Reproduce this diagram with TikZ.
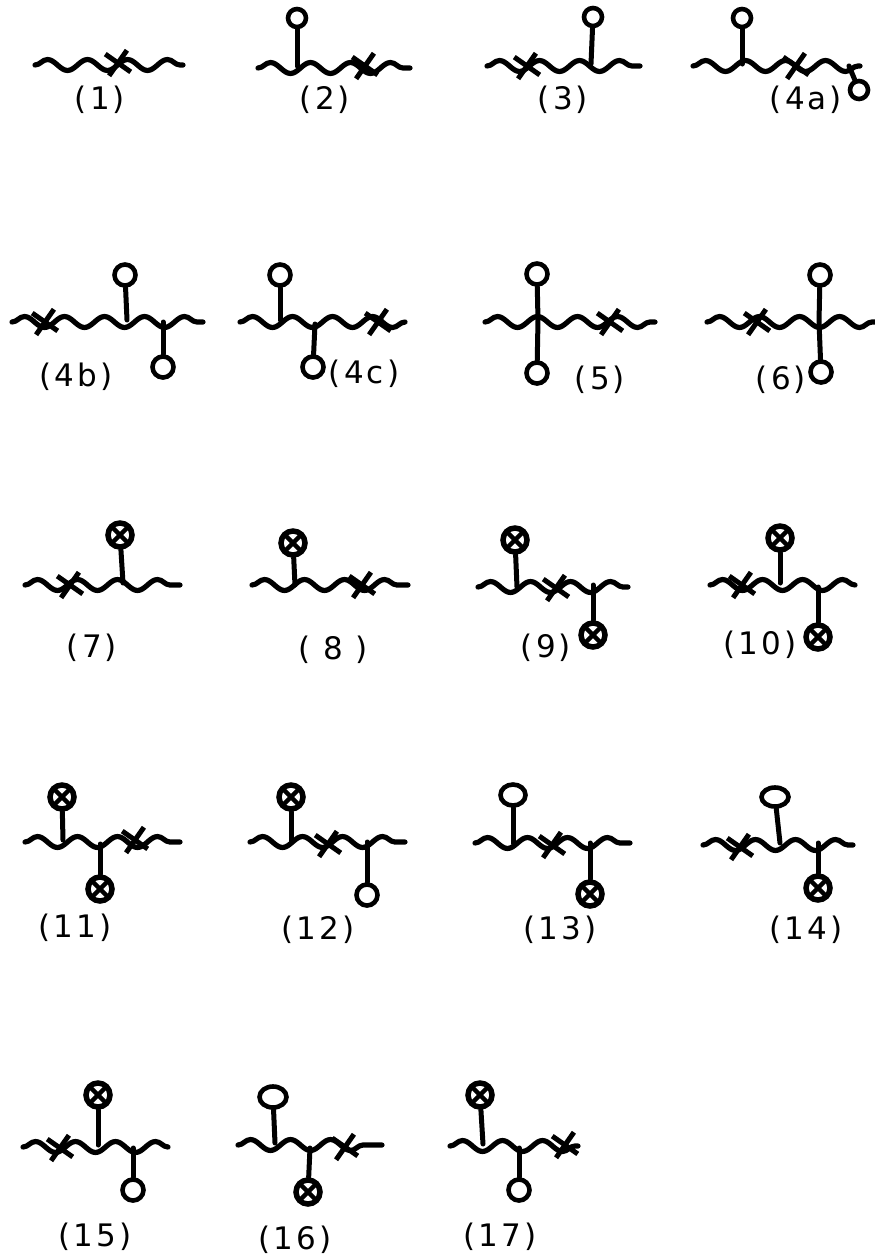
\documentclass[tikz,border=0pt]{standalone}
\usepackage{fontspec}
\setmainfont{Liberation Sans}
\newfontfamily\labfont[LetterSpace=10]{DejaVu Sans}
\usetikzlibrary{decorations.pathmorphing,shapes.misc,shapes.geometric}
\tikzset{
  wavy/.style={decorate,decoration={snake,segment length=40pt,amplitude=5.5pt},line width=5.2pt,line cap=round,line join=round},
  stem/.style={line width=5pt,line cap=round},
  openc/.style={circle,draw,line width=4.6pt,minimum size=21pt,inner sep=0pt},
  smallc/.style={openc,minimum size=18pt},
  xcirc/.style={circle,draw,line width=5.5pt,minimum size=24pt,inner sep=0pt,
    path picture={\draw[line width=4.5pt] (path picture bounding box.south west) -- (path picture bounding box.north east) (path picture bounding box.north west) -- (path picture bounding box.south east);}},
  xmark/.style={cross out,draw,line width=5pt,minimum size=17pt,inner sep=0pt,rotate=10},
  lab/.style={font=\labfont\fontsize{31}{31}\selectfont,inner sep=0pt}
}
\begin{document}
\begin{tikzpicture}[x=1pt,y=-1pt]
\path[use as bounding box] (0,0) rectangle (875,1259);
% ---------- (1)
\coordinate (L1) at (35,65); \coordinate (R1) at (183,65);
\draw[wavy] (L1) -- (R1);
\node[xmark] (X1) at (118,63) {};
\node[lab] (T1) at (100,100) {(1)};
% ---------- (2)
\coordinate (L2) at (258,68); \coordinate (R2) at (410,68);
\draw[wavy] (L2) -- (R2);
\coordinate (V2) at (297,66); \node[smallc] (C2) at (297,18) {};
\draw[stem] (V2) -- (C2);
\node[xmark] (X2) at (365,66) {};
\node[lab] (T2) at (325,100) {(2)};
% ---------- (3)
\coordinate (L3) at (487,66); \coordinate (R3) at (640,66);
\draw[wavy] (L3) -- (R3);
\node[xmark] (X3) at (527,66) {};
\coordinate (V3) at (591,64); \node[smallc] (C3) at (593,17) {};
\draw[stem] (V3) -- (C3);
\node[lab] (T3) at (563,100) {(3)};
% ---------- (4a)
\coordinate (L4a) at (693,66); \coordinate (R4a) at (860,66);
\draw[wavy] (L4a) -- (R4a);
\coordinate (V4a) at (742,64); \node[smallc] (C4a) at (742,18) {};
\draw[stem] (V4a) -- (C4a);
\node[xmark] (X4a) at (796,66) {};
\coordinate (W4a) at (849,66); \node[smallc] (D4a) at (859,90) {};
\draw[stem] (W4a) -- (D4a);
\node[lab] (T4a) at (806,100) {(4a)};
% ---------- (4b)
\coordinate (L4b) at (12,322); \coordinate (R4b) at (203,322);
\draw[wavy] (L4b) -- (R4b);
\node[xmark] (X4b) at (45,322) {};
\coordinate (V4b) at (127,320); \node[openc] (C4b) at (125,275) {};
\draw[stem] (V4b) -- (C4b);
\coordinate (W4b) at (163,322); \node[openc] (D4b) at (163,367) {};
\draw[stem] (W4b) -- (D4b);
\node[lab] (T4b) at (76,377) {(4b)};
% ---------- (4c)
\coordinate (L4c) at (240,322); \coordinate (R4c) at (405,322);
\draw[wavy] (L4c) -- (R4c);
\coordinate (V4c) at (280,320); \node[openc] (C4c) at (280,275) {};
\draw[stem] (V4c) -- (C4c);
\coordinate (W4c) at (315,324); \node[openc] (D4c) at (313,367) {};
\draw[stem] (W4c) -- (D4c);
\node[xmark] (X4c) at (378,322) {};
\node[lab] (T4c) at (364,374) {(4c)};
% ---------- (5)
\coordinate (L5) at (485,322); \coordinate (R5) at (655,322);
\draw[wavy] (L5) -- (R5);
\coordinate (V5) at (538,320); \node[openc] (C5) at (537,274) {};
\node[openc] (D5) at (537,373) {};
\draw[stem] (C5) -- (V5) -- (D5);
\node[xmark] (X5) at (610,322) {};
\node[lab] (T5) at (600,380) {(5)};
% ---------- (6)
\coordinate (L6) at (707,322); \coordinate (R6) at (875,322);
\draw[wavy] (L6) -- (R6);
\node[xmark] (X6) at (757,322) {};
\coordinate (V6) at (819,322); \node[openc] (C6) at (820,275) {};
\node[openc] (D6) at (821,372) {};
\draw[stem] (C6) -- (V6) -- (D6);
\node[lab] (T6) at (781,380) {(6)};
% ---------- (7)
\coordinate (L7) at (25,585); \coordinate (R7) at (180,585);
\draw[wavy] (L7) -- (R7);
\node[xmark] (X7) at (70,585) {};
\coordinate (V7) at (123,583); \node[xcirc] (C7) at (120,535) {};
\draw[stem] (V7) -- (C7);
\node[lab] (T7) at (92,648) {(7)};
% ---------- (8)
\coordinate (L8) at (252,585); \coordinate (R8) at (408,585);
\draw[wavy] (L8) -- (R8);
\coordinate (V8) at (295,585); \node[xcirc] (C8) at (293,543) {};
\draw[stem] (V8) -- (C8);
\node[xmark] (X8) at (362,585) {};
\node[lab] (T8) at (333,650) {( 8 )};
% ---------- (9)
\coordinate (L9) at (478,587); \coordinate (R9) at (628,587);
\draw[wavy] (L9) -- (R9);
\coordinate (V9) at (517,587); \node[xcirc] (C9) at (515,540) {};
\draw[stem] (V9) -- (C9);
\node[xmark] (X9) at (556,588) {};
\coordinate (W9) at (593,585); \node[xcirc] (D9) at (593,635) {};
\draw[stem] (W9) -- (D9);
\node[lab] (T9) at (546,648) {(9)};
% ---------- (10)
\coordinate (L10) at (710,585); \coordinate (R10) at (855,585);
\draw[wavy] (L10) -- (R10);
\node[xmark] (X10) at (742,585) {};
\coordinate (V10) at (780,583); \node[xcirc] (C10) at (780,538) {};
\draw[stem] (V10) -- (C10);
\coordinate (W10) at (818,587); \node[xcirc] (D10) at (818,637) {};
\draw[stem] (W10) -- (D10);
\node[lab] (T10) at (760,645) {(10)};
% ---------- (11)
\coordinate (L11) at (25,842); \coordinate (R11) at (180,842);
\draw[wavy] (L11) -- (R11);
\coordinate (V11) at (63,840); \node[xcirc] (C11) at (62,797) {};
\draw[stem] (V11) -- (C11);
\coordinate (W11) at (100,844); \node[xcirc] (D11) at (100,889) {};
\draw[stem] (W11) -- (D11);
\node[xmark] (X11) at (135,840) {};
\node[lab] (T11) at (75,928) {(11)};
% ---------- (12)
\coordinate (L12) at (250,842); \coordinate (R12) at (405,842);
\draw[wavy] (L12) -- (R12);
\coordinate (V12) at (291,842); \node[xcirc] (C12) at (291,797) {};
\draw[stem] (V12) -- (C12);
\node[xmark] (X12) at (328,844) {};
\coordinate (W12) at (367,842); \node[openc] (D12) at (367,895) {};
\draw[stem] (W12) -- (D12);
\node[lab] (T12) at (318,930) {(12)};
% ---------- (13)
\coordinate (L13) at (475,843); \coordinate (R13) at (630,843);
\draw[wavy] (L13) -- (R13);
\coordinate (V13) at (513,843); \node[openc,ellipse,minimum width=25pt,minimum height=21pt] (C13) at (513,795) {};
\draw[stem] (V13) -- (C13);
\node[xmark] (X13) at (552,845) {};
\coordinate (W13) at (590,843); \node[xcirc] (D13) at (590,894) {};
\draw[stem] (W13) -- (D13);
\node[lab] (T13) at (560,930) {(13)};
% ---------- (14)
\coordinate (L14) at (703,845); \coordinate (R14) at (853,845);
\draw[wavy] (L14) -- (R14);
\node[xmark] (X14) at (740,847) {};
\coordinate (V14) at (780,843); \node[openc,ellipse,minimum width=27pt,minimum height=19pt] (C14) at (775,797) {};
\draw[stem] (V14) -- (C14);
\coordinate (W14) at (818,843); \node[xcirc] (D14) at (818,888) {};
\draw[stem] (W14) -- (D14);
\node[lab] (T14) at (806,930) {(14)};
% ---------- (15)
\coordinate (L15) at (23,1147); \coordinate (R15) at (168,1147);
\draw[wavy] (L15) -- (R15);
\node[xmark] (X15) at (60,1148) {};
\coordinate (V15) at (98,1145); \node[xcirc] (C15) at (98,1095) {};
\draw[stem] (V15) -- (C15);
\coordinate (W15) at (133,1148); \node[openc] (D15) at (133,1190) {};
\draw[stem] (W15) -- (D15);
\node[lab] (T15) at (95,1237) {(15)};
% ---------- (16)
\coordinate (L16) at (238,1145); \coordinate (R16) at (382,1145);
\draw[wavy] (L16) -- (R16);
\coordinate (V16) at (275,1143); \node[openc,ellipse,minimum width=27pt,minimum height=21pt] (C16) at (273,1097) {};
\draw[stem] (V16) -- (C16);
\coordinate (W16) at (310,1148); \node[xcirc] (D16) at (308,1192) {};
\draw[stem] (W16) -- (D16);
\node[xmark] (X16) at (345,1147) {};
\node[lab] (T16) at (295,1240) {(16)};
% ---------- (17)
\coordinate (L17) at (450,1146); \coordinate (R17) at (578,1146);
\draw[wavy] (L17) -- (R17);
\coordinate (V17) at (483,1144); \node[xcirc] (C17) at (480,1095) {};
\draw[stem] (V17) -- (C17);
\coordinate (W17) at (519,1148); \node[openc] (D17) at (519,1190) {};
\draw[stem] (W17) -- (D17);
\node[xmark] (X17) at (565,1145) {};
\node[lab] (T17) at (500,1237) {(17)};
\end{tikzpicture}
\end{document}
